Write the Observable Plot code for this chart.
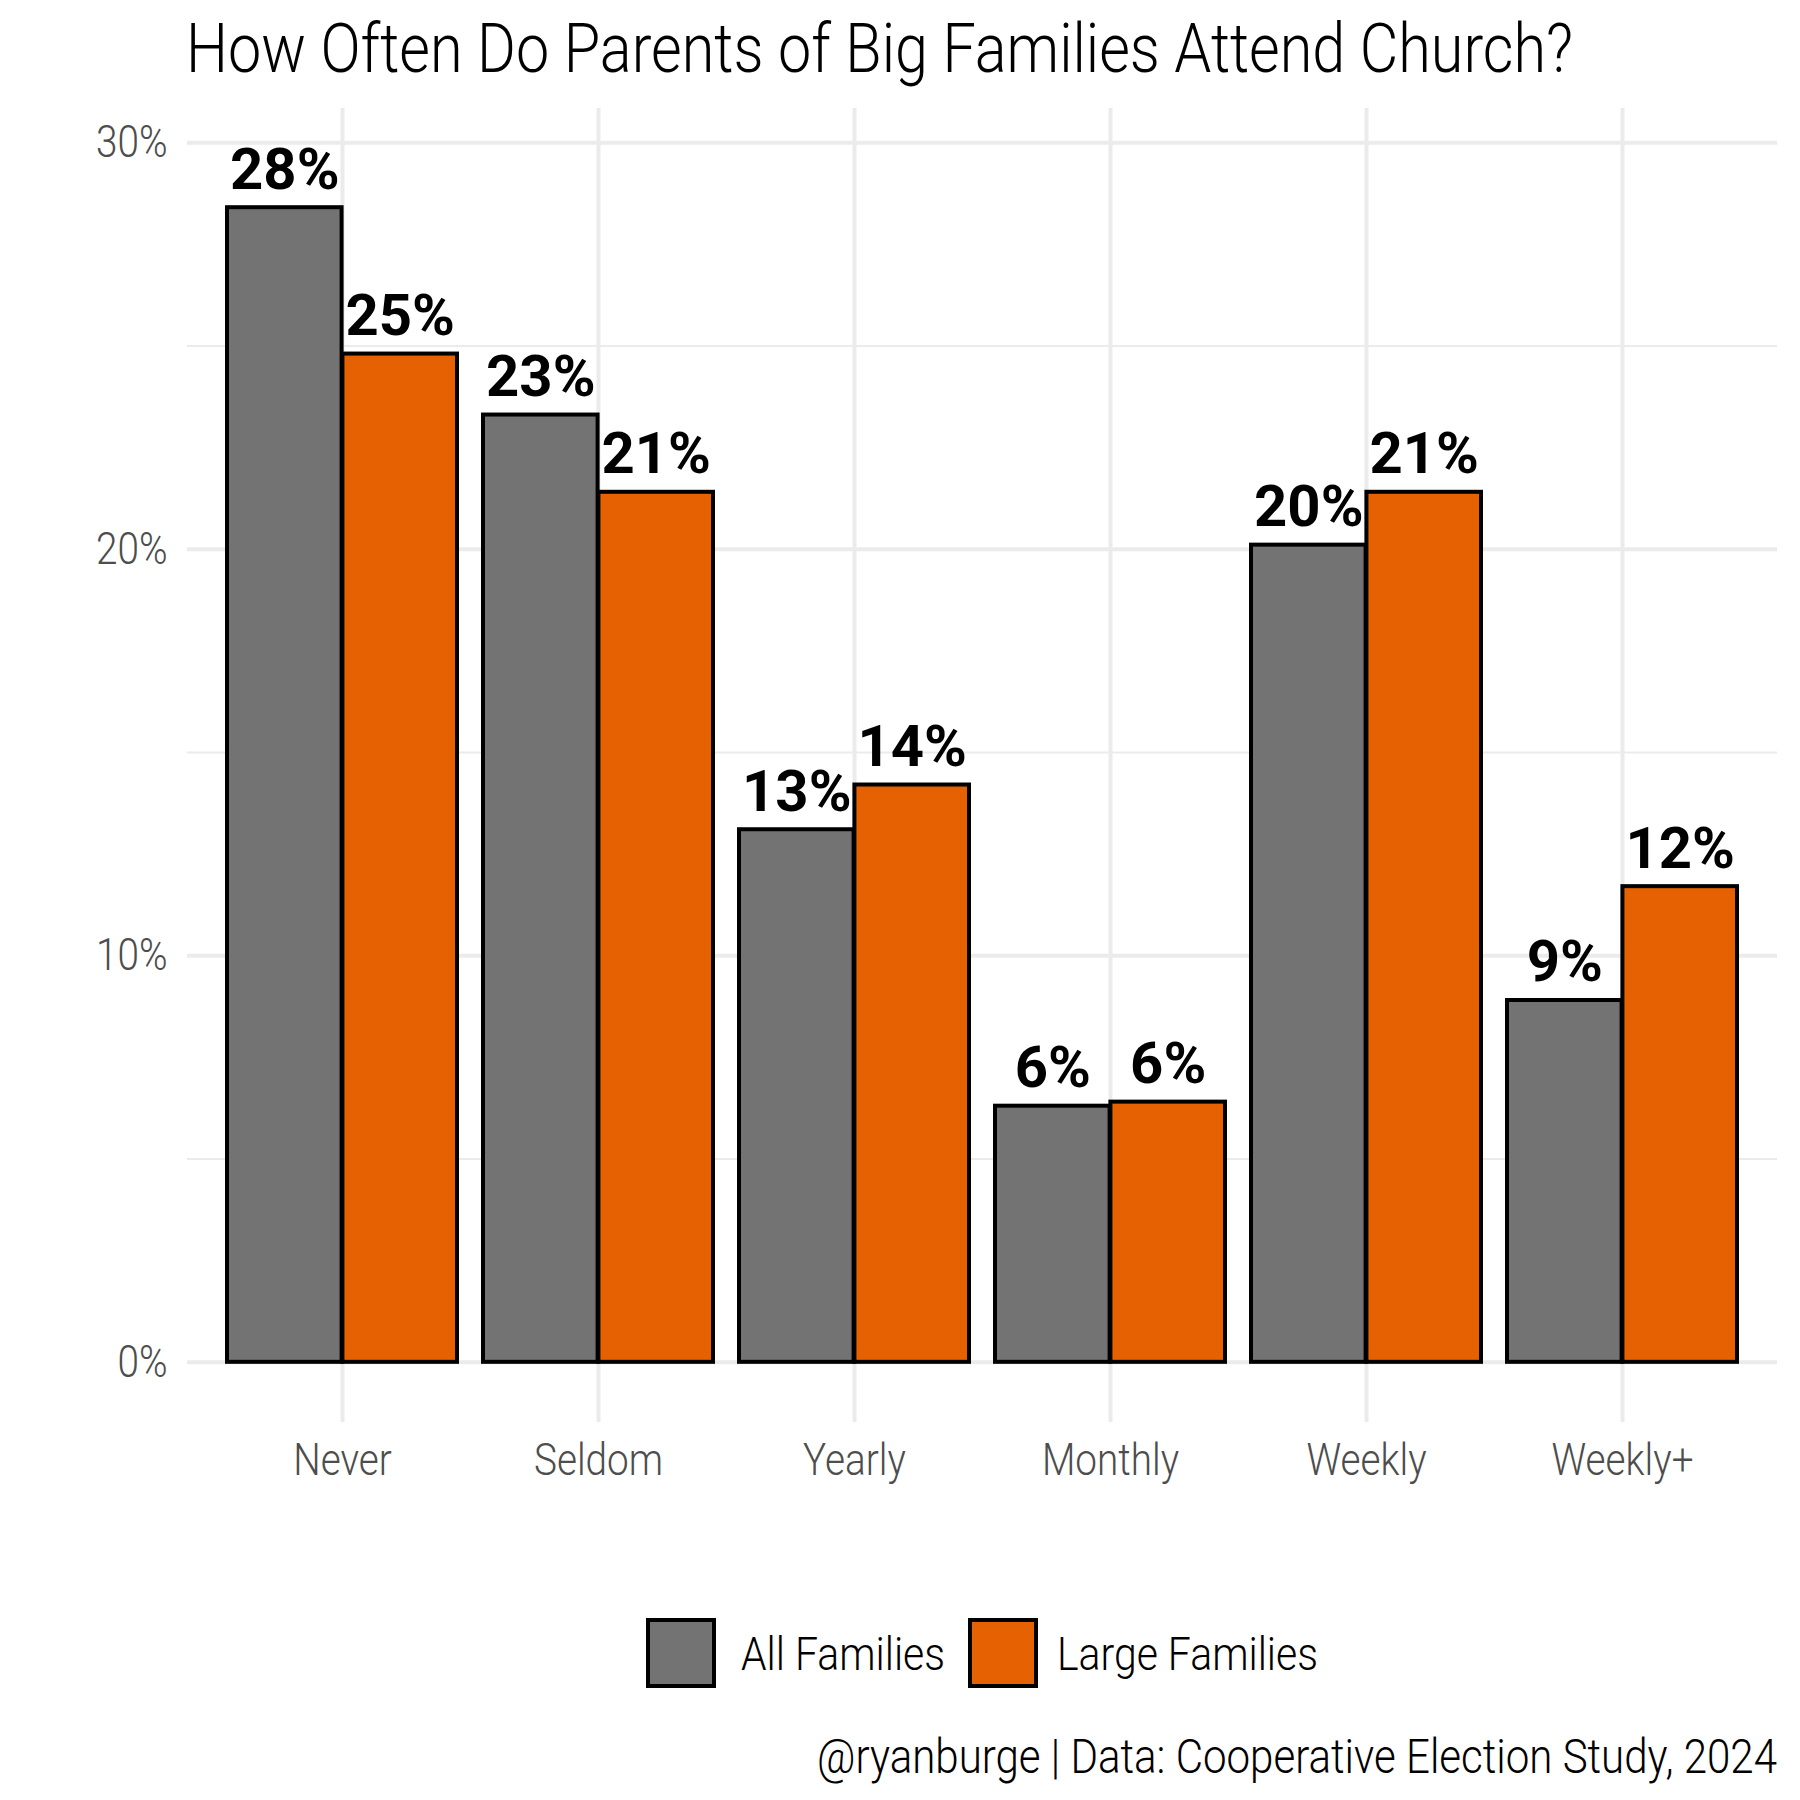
<!DOCTYPE html>
<html>
<head>
<meta charset="utf-8">
<script src="https://cdn.jsdelivr.net/npm/d3@7"></script>
<script src="https://cdn.jsdelivr.net/npm/@observablehq/plot@0.6"></script>
<style>
html,body{margin:0;padding:0;background:#fff;}
#page{width:1800px;height:1800px;position:relative;font-family:Roboto,"Noto Sans",sans-serif;color:#000;overflow:hidden;background:#fff;}
#title{position:relative;height:100px;}
#chart{height:1400px;}
#footer{position:relative;height:300px;}
.txt{position:absolute;white-space:nowrap;line-height:1;transform-origin:0 0;}
.key{position:absolute;box-sizing:border-box;width:70px;height:70px;border:4px solid #000;}
</style>
</head>
<body>
<div id="page">
  <div id="title"></div>
  <div id="chart"></div>
  <div id="footer"></div>
</div>
<script>
// ---- data ----
const categories = ["Never", "Seldom", "Yearly", "Monthly", "Weekly", "Weekly+"];
const groups = ["All Families", "Large Families"];
const allFamilies = [28.4, 23.3, 13.1, 6.3, 20.1, 8.9];
const largeFamilies = [24.8, 21.4, 14.2, 6.4, 21.4, 11.7];
const yTicks = [0, 10, 20, 30];
const yMinorTicks = [5, 15, 25];
const colors = ["#737373", "#e66101"];
const titleText = "How Often Do Parents of Big Families Attend Church?";
const captionText = "@ryanburge | Data: Cooperative Election Study, 2024";

const rows = categories.flatMap((c, i) => [
  {category: c, group: groups[0], value: allFamilies[i]},
  {category: c, group: groups[1], value: largeFamilies[i]}
]);
const rowsAll = rows.filter(d => d.group === groups[0]);
const rowsLarge = rows.filter(d => d.group === groups[1]);

// ---- layout ----
const W = 1800, H = 1400, mL = 187, mR = 23, mT = 8, mB = 78;
const padIn = 0.1, padOut = 0.15;
const step = (W - mL - mR) / (categories.length - padIn + 2 * padOut);
const half = step * (1 - padIn) / 2;

const chart = Plot.plot({
  width: W, height: H,
  marginLeft: mL, marginRight: mR, marginTop: mT, marginBottom: mB,
  style: {fontFamily: "Roboto, 'Noto Sans', sans-serif", fontWeight: 300, background: "#fff", overflow: "visible"},
  x: {domain: categories, type: "band", paddingInner: padIn, paddingOuter: padOut, align: 0.5},
  y: {domain: [-1.48, 30.84]},
  color: {domain: groups, range: colors},
  marks: [
    Plot.ruleY(yMinorTicks, {stroke: "#ebebeb", strokeWidth: 2}),
    Plot.ruleY(yTicks, {stroke: "#ebebeb", strokeWidth: 4}),
    Plot.ruleX(categories, {stroke: "#ebebeb", strokeWidth: 4}),
    Plot.axisY(yTicks, {tickFormat: d => d + "%", tickSize: 0, tickPadding: 20, fontSize: 45, color: "#4d4d4d", label: null}),
    Plot.axisX({tickSize: 0, tickPadding: 21, fontSize: 45, color: "#4d4d4d", label: null}),
    Plot.barY(rowsAll, {x: "category", y: "value", fill: "group", stroke: "#000", strokeWidth: 4, insetRight: half}),
    Plot.barY(rowsLarge, {x: "category", y: "value", fill: "group", stroke: "#000", strokeWidth: 4, insetLeft: half}),
    Plot.text(rowsAll, {x: "category", y: "value", text: d => Math.round(d.value) + "%", dx: -half / 2, dy: -19, lineAnchor: "bottom", fontSize: 58, fontWeight: 700, fill: "#000"}),
    Plot.text(rowsLarge, {x: "category", y: "value", text: d => Math.round(d.value) + "%", dx: half / 2, dy: -19, lineAnchor: "bottom", fontSize: 58, fontWeight: 700, fill: "#000"})
  ]
});
document.getElementById("chart").appendChild(chart);

// narrow the tick labels a little (condensed look)
chart.querySelectorAll('[aria-label="x-axis tick label"] text, [aria-label="y-axis tick label"] text').forEach(t => {
  const tr = t.getAttribute("transform") || "";
  t.setAttribute("transform", tr + " scale(0.86,1)");
});

// ---- html texts ----
function placeText(parent, str, {left, baseline, size, weight = 300, width, color = "#000"}) {
  const el = document.createElement("div");
  el.className = "txt";
  el.textContent = str;
  el.style.fontSize = size + "px";
  el.style.fontWeight = weight;
  el.style.color = color;
  el.style.top = (baseline - 0.8418 * size) + "px";
  el.style.left = left + "px";
  parent.appendChild(el);
  const w = el.getBoundingClientRect().width;
  if (width && w > 0) el.style.transform = `scaleX(${width / w})`;
  return el;
}

placeText(document.getElementById("title"), titleText, {left: 186, baseline: 72, size: 69, weight: 300, width: 1387});

const footer = document.getElementById("footer");
const keyLefts = [646, 968];
const labelLefts = [741, 1057];
const labelWidths = [204, 261];
groups.forEach((g, i) => {
  const k = document.createElement("div");
  k.className = "key";
  k.style.left = keyLefts[i] + "px";
  k.style.top = "118px";
  k.style.background = colors[i];
  footer.appendChild(k);
  placeText(footer, g, {left: labelLefts[i], baseline: 170, size: 46, weight: 300, width: labelWidths[i]});
});
placeText(footer, captionText, {left: 817, baseline: 273, size: 49, weight: 300, width: 960});
</script>
</body>
</html>
